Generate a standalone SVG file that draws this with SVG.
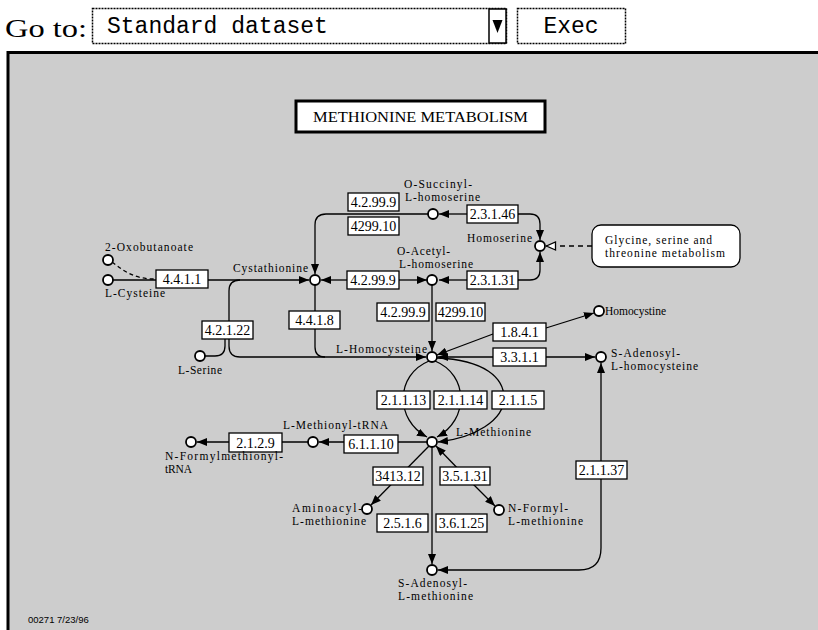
<svg xmlns="http://www.w3.org/2000/svg" width="818" height="630" viewBox="0 0 818 630">
<style>
.lbl{font-family:"Liberation Serif",serif;font-size:11.5px;fill:#000}
.enz{font-family:"Liberation Serif",serif;font-size:14px;fill:#000;text-anchor:middle}
.box{fill:#fff;stroke:#000;stroke-width:1.3}
.node{fill:#fff;stroke:#000;stroke-width:1.8}
.ln{fill:none;stroke:#000;stroke-width:1.3}
.arr{fill:none;stroke:#000;stroke-width:1.3;marker-end:url(#ah)}
</style>
<defs>
<marker id="ah" viewBox="0 0 10 8" refX="10" refY="4" markerWidth="10" markerHeight="8" markerUnits="userSpaceOnUse" orient="auto"><path d="M0,0 L10,4 L0,8 z" fill="#000"/></marker>
<marker id="oh" viewBox="0 0 11 10" refX="10.5" refY="5" markerWidth="11" markerHeight="10" markerUnits="userSpaceOnUse" orient="auto"><path d="M1,1 L10,5 L1,9 z" fill="#fff" stroke="#000" stroke-width="1.3"/></marker>
</defs>
<rect x="0" y="0" width="818" height="630" fill="#fff"/>
<g id="toolbar">
<text x="5" y="37" font-family="Liberation Serif, serif" font-size="25" textLength="82" lengthAdjust="spacingAndGlyphs">Go to:</text>
<rect x="92.5" y="8.5" width="414" height="35" fill="#fff" stroke="#000" stroke-width="1.5" stroke-dasharray="2,1"/>
<text x="107" y="33" font-family="Liberation Mono, monospace" font-size="23">Standard dataset</text>
<rect x="489" y="9" width="17" height="34" fill="#fff" stroke="#000" stroke-width="1.5"/>
<polygon points="492.5,20 502.5,20 497.5,33" fill="#000"/>
<rect x="517.5" y="8.5" width="108" height="35" fill="#fff" stroke="#000" stroke-width="1.5" stroke-dasharray="2,1"/>
<text x="571" y="33" font-family="Liberation Mono, monospace" font-size="23" text-anchor="middle">Exec</text>
</g>
<rect id="panel" x="8" y="52.5" width="812" height="580" fill="#cdcdcd" stroke="#000" stroke-width="3"/>
<g id="title">
<rect x="296" y="101" width="249" height="31" fill="#fff" stroke="#000" stroke-width="3"/>
<text x="313" y="122" font-family="Liberation Serif, serif" font-size="15" textLength="215" lengthAdjust="spacingAndGlyphs">METHIONINE METABOLISM</text>
</g>
<g id="connectors">
<path class="arr" d="M113,280 L309,280"/>
<path class="ln" d="M112,262 C125,272 135,279 155,279" stroke-dasharray="4,3"/>
<path class="arr" d="M240,280 Q229,280 229,291 L229,346 Q229,357 240,357 L426,357"/>
<path class="ln" d="M205,356 L215,356 Q225,356 225,346 L225,336"/>
<path class="ln" d="M315,285 L315,347 Q315,357 325,357"/>
<path class="arr" d="M428,214 L326,214 Q315,214 315,225 L315,274"/>
<path class="arr" d="M347,280 L321,280"/>
<path class="arr" d="M399,280 L427,280"/>
<path class="arr" d="M467,214 L439,214"/>
<path class="arr" d="M518,214 L530,214 Q540,214 540,224 L540,240"/>
<path class="arr" d="M467,280 L439,280"/>
<path class="arr" d="M518,280 L530,280 Q540,280 540,270 L540,252"/>
<path class="ln" d="M592,246 L546,246" stroke-dasharray="5,4" marker-end="url(#oh)"/>
<path class="arr" d="M432,285 L432,351"/>
<path class="arr" d="M493,334 L437,355"/>
<path class="arr" d="M546,328 L594,313"/>
<path class="arr" d="M493,357 L438,357"/>
<path class="arr" d="M546,357 L595,357"/>
<path class="arr" d="M601,470 L601,548 Q601,570 579,570 L438,570"/>
<path class="arr" d="M601,470 L601,363"/>
<path class="arr" d="M429,361 C395,375 395,420 427,437"/>
<path class="arr" d="M435,361 C469,375 469,420 437,437"/>
<path class="arr" d="M437,358 C485,360 504,378 504,398 C504,420 475,438 438,442"/>
<path class="arr" d="M427,442 L319,442"/>
<path class="arr" d="M308,442 L197,442"/>
<path class="arr" d="M429,446 L371,505"/>
<path class="arr" d="M465,476 L436,446"/>
<path class="arr" d="M465,476 L495,506"/>
<path class="arr" d="M432,447 L432,564"/>
</g>
<g id="e4411"><rect class="box" x="156" y="270" width="52" height="18"/><text class="enz" x="182" y="284">4.4.1.1</text></g>
<g id="e42122"><rect class="box" x="202" y="321" width="51" height="18"/><text class="enz" x="227.5" y="335">4.2.1.22</text></g>
<g id="e4418"><rect class="box" x="289" y="311" width="51" height="18"/><text class="enz" x="314.5" y="325">4.4.1.8</text></g>
<g id="e42999a"><rect class="box" x="348" y="193" width="51" height="18"/><text class="enz" x="373.5" y="207">4.2.99.9</text></g>
<g id="e42910a"><rect class="box" x="348" y="217" width="51" height="18"/><text class="enz" x="373.5" y="231">4299.10</text></g>
<g id="e42999b"><rect class="box" x="347" y="271" width="52" height="18"/><text class="enz" x="373" y="285">4.2.99.9</text></g>
<g id="e42999c"><rect class="box" x="377" y="303" width="52" height="18"/><text class="enz" x="403" y="317">4.2.99.9</text></g>
<g id="e42910b"><rect class="box" x="436" y="303" width="49" height="18"/><text class="enz" x="460.5" y="317">4299.10</text></g>
<g id="e23146"><rect class="box" x="467" y="205" width="51" height="18"/><text class="enz" x="492.5" y="219">2.3.1.46</text></g>
<g id="e23131"><rect class="box" x="467" y="271" width="51" height="18"/><text class="enz" x="492.5" y="285">2.3.1.31</text></g>
<g id="e1841"><rect class="box" x="493" y="323" width="53" height="18"/><text class="enz" x="519.5" y="337">1.8.4.1</text></g>
<g id="e3311"><rect class="box" x="493" y="348" width="53" height="18"/><text class="enz" x="519.5" y="362">3.3.1.1</text></g>
<g id="e21113"><rect class="box" x="377" y="391" width="53" height="18"/><text class="enz" x="403.5" y="405">2.1.1.13</text></g>
<g id="e21114"><rect class="box" x="434" y="391" width="53" height="18"/><text class="enz" x="460.5" y="405">2.1.1.14</text></g>
<g id="e2115"><rect class="box" x="492" y="391" width="52" height="18"/><text class="enz" x="518" y="405">2.1.1.5</text></g>
<g id="e61110"><rect class="box" x="344" y="435" width="54" height="18"/><text class="enz" x="371" y="449">6.1.1.10</text></g>
<g id="e2129"><rect class="box" x="229" y="433" width="53" height="19"/><text class="enz" x="255.5" y="447.5">2.1.2.9</text></g>
<g id="e341312"><rect class="box" x="373" y="467" width="50" height="18"/><text class="enz" x="398" y="481">3413.12</text></g>
<g id="e35131"><rect class="box" x="440" y="467" width="50" height="18"/><text class="enz" x="465" y="481">3.5.1.31</text></g>
<g id="e2516"><rect class="box" x="377" y="514" width="51" height="18"/><text class="enz" x="402.5" y="528">2.5.1.6</text></g>
<g id="e36125"><rect class="box" x="436" y="514" width="51" height="18"/><text class="enz" x="461.5" y="528">3.6.1.25</text></g>
<g id="e21137"><rect class="box" x="576" y="461" width="51" height="18"/><text class="enz" x="601.5" y="475">2.1.1.37</text></g>
<g id="glycine"><rect x="592" y="225" width="148" height="42" rx="9" fill="#fff" stroke="#000" stroke-width="1.3"/><text class="lbl" x="605" y="244" textLength="107">Glycine, serine and</text><text class="lbl" x="605" y="257" textLength="120">threonine metabolism</text></g>
<g id="n_oxobutanoate"><circle class="node" cx="108" cy="260" r="5"/><text class="lbl" x="105" y="251" textLength="88">2-Oxobutanoate</text></g>
<g id="n_cysteine"><circle class="node" cx="108" cy="280" r="5"/><text class="lbl" x="105" y="297" textLength="60">L-Cysteine</text></g>
<g id="n_serine"><circle class="node" cx="200" cy="356" r="5"/><text class="lbl" x="178" y="374" textLength="44">L-Serine</text></g>
<g id="n_cystathionine"><circle class="node" cx="315" cy="280" r="5"/><text class="lbl" x="233" y="272" textLength="75">Cystathionine</text></g>
<g id="n_succinyl"><circle class="node" cx="433" cy="214" r="5"/><text class="lbl" x="404" y="188" textLength="68">O-Succinyl-</text><text class="lbl" x="405" y="201" textLength="75">L-homoserine</text></g>
<g id="n_homoserine"><circle class="node" cx="540" cy="246" r="5"/><text class="lbl" x="467" y="242" textLength="65">Homoserine</text></g>
<g id="n_acetyl"><circle class="node" cx="432" cy="280" r="5"/><text class="lbl" x="397" y="255" textLength="53">O-Acetyl-</text><text class="lbl" x="399" y="268" textLength="74">L-homoserine</text></g>
<g id="n_homocysteine"><circle class="node" cx="432" cy="357" r="5"/><text class="lbl" x="336" y="353" textLength="91">L-Homocysteine</text></g>
<g id="n_homocystine"><circle class="node" cx="599" cy="311" r="5"/><text class="lbl" x="605" y="315" textLength="61">Homocystine</text></g>
<g id="n_sah"><circle class="node" cx="601" cy="357" r="5"/><text class="lbl" x="611" y="357" textLength="69">S-Adenosyl-</text><text class="lbl" x="611" y="370" textLength="87">L-homocysteine</text></g>
<g id="n_methionine"><circle class="node" cx="432" cy="442" r="5"/><text class="lbl" x="456" y="436" textLength="75">L-Methionine</text></g>
<g id="n_mettrna"><circle class="node" cx="313" cy="442" r="5"/><text class="lbl" x="283" y="429" textLength="105">L-Methionyl-tRNA</text></g>
<g id="n_fmettrna"><circle class="node" cx="191" cy="442" r="5"/><text class="lbl" x="165" y="460" textLength="118">N-Formylmethionyl-</text><text class="lbl" x="165" y="473" textLength="27">tRNA</text></g>
<g id="n_aminoacyl"><circle class="node" cx="367" cy="509" r="5"/><text class="lbl" x="292" y="512" textLength="70">Aminoacyl-</text><text class="lbl" x="292" y="525" textLength="74">L-methionine</text></g>
<g id="n_formylmet"><circle class="node" cx="499" cy="510" r="5"/><text class="lbl" x="508" y="512" textLength="60">N-Formyl-</text><text class="lbl" x="508" y="525" textLength="75">L-methionine</text></g>
<g id="n_sam"><circle class="node" cx="432" cy="570" r="5"/><text class="lbl" x="398" y="587" textLength="69">S-Adenosyl-</text><text class="lbl" x="398" y="600" textLength="75">L-methionine</text></g>
<text id="footer" x="28" y="623" font-family="Liberation Sans, sans-serif" font-size="9.5">00271   7/23/96</text>
</svg>
